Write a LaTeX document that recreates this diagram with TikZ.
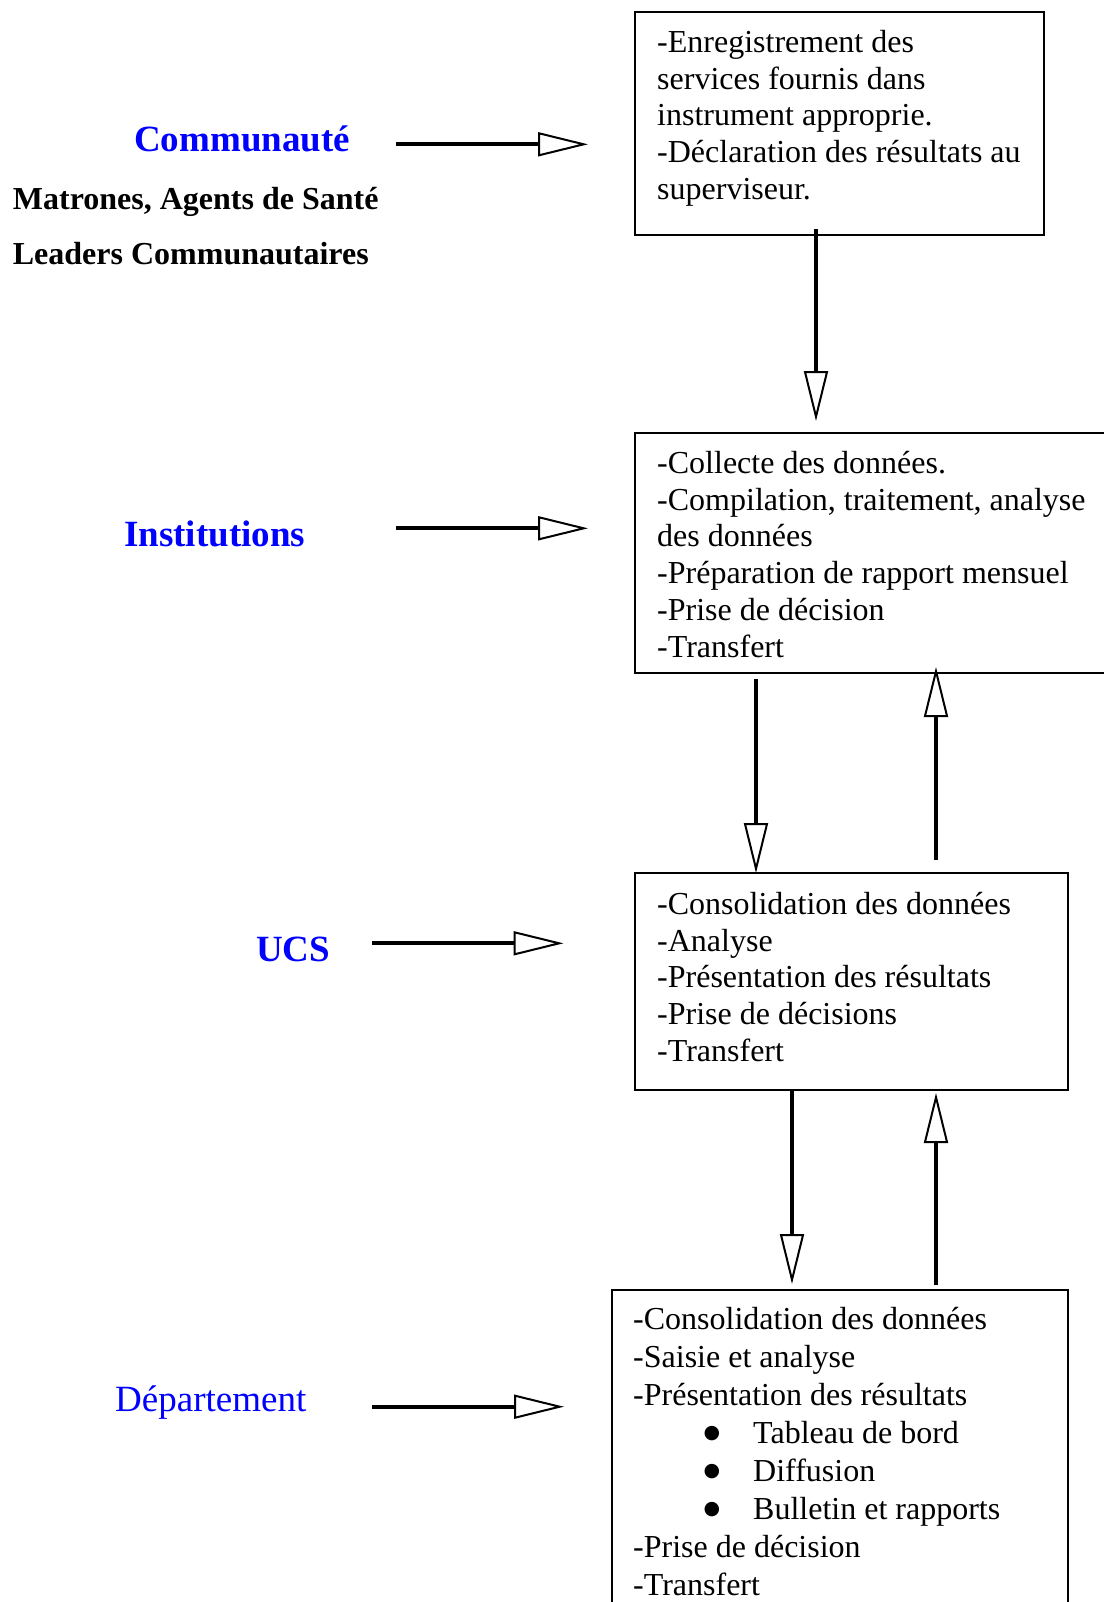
\documentclass[tikz,border=0pt]{standalone}
\usepackage{fontspec}
\setmainfont{Liberation Serif}
\newfontfamily\dejavu{DejaVu Sans}
\usetikzlibrary{arrows.meta,calc}
\newcommand{\bigbul}{\raisebox{4.8pt}{\dejavu\fontsize{19}{19}\selectfont ●}}
\begin{document}
\begin{tikzpicture}[x=1pt,y=-1pt,
  box/.style={draw, line width=2pt, inner sep=0pt, outer sep=0pt, anchor=north west},
  boxtext/.style={anchor=base west, inner sep=0pt, font=\fontsize{32}{36.7}\selectfont},
  lvl/.style={text=blue, anchor=base west, inner sep=0pt, font=\fontsize{37}{44}\selectfont\bfseries},
  actor/.style={anchor=base west, inner sep=0pt, font=\fontsize{32}{38}\selectfont\bfseries},
  arr/.style={line width=4pt, -{Triangle[length=50pt,width=24pt,fill=white,line width=2pt]}}]
\useasboundingbox (0,0) rectangle (1103,1602);

% boxes
\node[box, minimum width=409pt, minimum height=223pt] (b1) at (635,12) {};
\node[box, minimum width=500pt, minimum height=240pt] (b2) at (635,433) {};
\node[box, minimum width=433pt, minimum height=217pt] (b3) at (635,873) {};
\node[box, minimum width=456pt, minimum height=340pt] (b4) at (612,1290) {};

% box texts
\node[boxtext] (t1) at (657,52.5) {\parbox[t]{380pt}{\raggedright
-Enregistrement des\\
services fournis dans\\
instrument approprie.\\
-Déclaration des résultats au\\
superviseur.}};
\node[boxtext] (t2) at (657,473.5) {\parbox[t]{460pt}{\raggedright
-Collecte des données.\\
-Compilation, traitement, analyse\\
des données\\
-Préparation de rapport mensuel\\
-Prise de décision\\
-Transfert}};
\node[boxtext] (t3) at (657,914.5) {\parbox[t]{410pt}{\raggedright
-Consolidation des données\\
-Analyse\\
-Présentation des résultats\\
-Prise de décisions\\
-Transfert}};
\node[boxtext, font=\fontsize{32}{38}\selectfont] (t4) at (633,1329.5) {\parbox[t]{430pt}{\raggedright
-Consolidation des données\\
-Saisie et analyse\\
-Présentation des résultats\\
\hspace*{70.5pt}\makebox[49.5pt][l]{\bigbul}Tableau de bord\\
\hspace*{70.5pt}\makebox[49.5pt][l]{\bigbul}Diffusion\\
\hspace*{70.5pt}\makebox[49.5pt][l]{\bigbul}Bulletin et rapports\\
-Prise de décision\\
-Transfert}};

% level labels
\node[lvl] (l1) at (134,151.7) {Communauté};
\node[actor] (m1) at (12.7,210) {Matrones, Agents de Santé};
\node[actor] (m2) at (12.7,265) {Leaders Communautaires};
\node[lvl] (l2) at (124,546.7) {Institutions};
\node[lvl] (l3) at (256,961) {UCS};
\node[lvl, font=\fontsize{37}{44}\selectfont] (l4) at (115,1411.7) {Département};

% reference coordinates
\coordinate (xa) at (816,0);
\coordinate (xb) at (756,0);
\coordinate (xc) at (936,0);
\coordinate (xd) at (792,0);
\coordinate (h1) at (396,144.3);
\coordinate (h2) at (396,528.3);
\coordinate (h3) at (372,943.3);
\coordinate (h4) at (372,1406.7);

% vertical connectors
\draw[arr] ($(b1.south -| xa)+(0,-6)$) -- ($(b2.north -| xa)+(0,-12)$);
\draw[arr] ($(b2.south -| xb)+(0,6)$) -- ($(b3.north -| xb)+(0,0)$);
\draw[arr] ($(b3.north -| xc)+(0,-13)$) -- ($(b2.south -| xc)+(0,-6)$);
\draw[arr] ($(b3.south -| xd)+(0,1)$) -- ($(b4.north -| xd)+(0,-6)$);
\draw[arr] ($(b4.north -| xc)+(0,-5)$) -- ($(b3.south -| xc)+(0,3)$);

% horizontal connectors
\draw[arr] (h1) -- ($(h1 -| b1.west)+(-47,0)$);
\draw[arr] (h2) -- ($(h2 -| b2.west)+(-47,0)$);
\draw[arr] (h3) -- ($(h3 -| b3.west)+(-71.5,0)$);
\draw[arr] (h4) -- ($(h4 -| b4.west)+(-48,0)$);
\end{tikzpicture}
\end{document}
